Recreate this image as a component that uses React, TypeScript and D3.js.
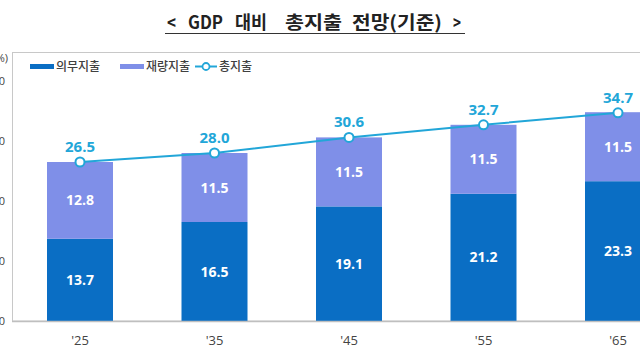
import React from "react";
import * as d3 from "d3";

const years = ["'25", "'35", "'45", "'55", "'65"];
const mandatory = [13.7, 16.5, 19.1, 21.2, 23.3];
const discretionary = [12.8, 11.5, 11.5, 11.5, 11.5];
const total = [26.5, 28.0, 30.6, 32.7, 34.7];
const yTicks = [0, 10, 20, 30, 40];
const titleWords = ["<", "GDP", "대비", "총지출", "전망(기준)", ">"];

const DARK = "#0A6EC4";
const LIGHT = "#7F8FE8";
const LINE = "#22A6D8";
const KR = "'Noto Sans CJK KR', 'Noto Sans', sans-serif";
const NUM = "'Open Sans', 'Noto Sans', sans-serif";

// layout of title words (x start, width)
const titleX = [167, 188, 235, 285, 352, 453];
const titleW = [9, 35, 32, 57, 90, 8];

export default function App() {
  const W = 640, H = 360;
  const y = d3.scaleLinear().domain([0, 40]).range([321, 81]);
  const x = d3.scalePoint<string>().domain(years).range([80, 618]);
  const bw = 66;
  const line = d3
    .line<number>()
    .x((_, i) => x(years[i])!)
    .y((d) => y(d));

  return (
    <svg width={W} height={H} style={{ position: "absolute", left: 0, top: 0, background: "#fff" }}>
      {/* title */}
      <g fontFamily={KR} fontWeight={700} fontSize={18} fill="#222">
        {titleWords.map((w, i) => (
          <text key={i} x={titleX[i]} y={28.5} textLength={titleW[i]} lengthAdjust="spacingAndGlyphs">
            {w}
          </text>
        ))}
      </g>
      <line x1={165} x2={465} y1={33.5} y2={33.5} stroke="#333" strokeWidth={1} />

      {/* frame */}
      <rect x={12.5} y={52.5} width={650} height={268.5} fill="none" stroke="#c8c8c8" strokeWidth={1} />

      {/* y tick labels (cropped at left) */}
      {yTicks.map((t) => (
        <text key={t} x={5} y={y(t) + 4} textAnchor="end" fontFamily={NUM} fontSize={11} fill="#444">
          {t}
        </text>
      ))}
      <text x={8} y={62} textAnchor="end" fontFamily={NUM} fontSize={11} fill="#444">(%)</text>

      {/* legend */}
      <rect x={30} y={64} width={24} height={5} fill={DARK} />
      <text x={56} y={70.5} fontFamily={KR} fontWeight={500} fontSize={12} fill="#404040">의무지출</text>
      <rect x={120} y={64} width={24} height={5} fill={LIGHT} />
      <text x={146} y={70.5} fontFamily={KR} fontWeight={500} fontSize={12} fill="#404040">재량지출</text>
      <line x1={195} x2={217} y1={66.5} y2={66.5} stroke={LINE} strokeWidth={2} />
      <circle cx={206} cy={66.5} r={3.5} fill="#fff" stroke={LINE} strokeWidth={1.8} />
      <text x={219} y={70.5} fontFamily={KR} fontWeight={500} fontSize={12} fill="#404040">총지출</text>

      {/* bars */}
      {years.map((yr, i) => {
        const cx = x(yr)!;
        const m = mandatory[i];
        const d = discretionary[i];
        return (
          <g key={yr}>
            <rect x={cx - bw / 2} y={y(m)} width={bw} height={y(0) - y(m)} fill={DARK} />
            <rect x={cx - bw / 2} y={y(m + d)} width={bw} height={y(m) - y(m + d)} fill={LIGHT} />
            <text x={cx} y={(y(0) + y(m)) / 2 + 5} textAnchor="middle" fontFamily={NUM} fontWeight={700} fontSize={14} fill="#fff">
              {m.toFixed(1)}
            </text>
            <text x={cx} y={(y(m) + y(m + d)) / 2 + 5} textAnchor="middle" fontFamily={NUM} fontWeight={700} fontSize={14} fill="#fff">
              {d.toFixed(1)}
            </text>
            <text x={cx} y={340 + 5} textAnchor="middle" fontFamily={NUM} fontSize={13} fill="#444">
              {yr}
            </text>
          </g>
        );
      })}

      {/* x axis line */}
      <line x1={12} x2={640} y1={321.5} y2={321.5} stroke="#bfbfbf" strokeWidth={1.5} />

      {/* total line */}
      <path d={line(total) || ""} fill="none" stroke={LINE} strokeWidth={2} />
      {total.map((t, i) => (
        <g key={i}>
          <circle cx={x(years[i])!} cy={y(t)} r={4.5} fill="#fff" stroke={LINE} strokeWidth={2} />
          <text x={x(years[i])!} y={y(t) - 10} textAnchor="middle" fontFamily={NUM} fontWeight={700} fontSize={15} fill={LINE}>
            {t.toFixed(1)}
          </text>
        </g>
      ))}
    </svg>
  );
}
